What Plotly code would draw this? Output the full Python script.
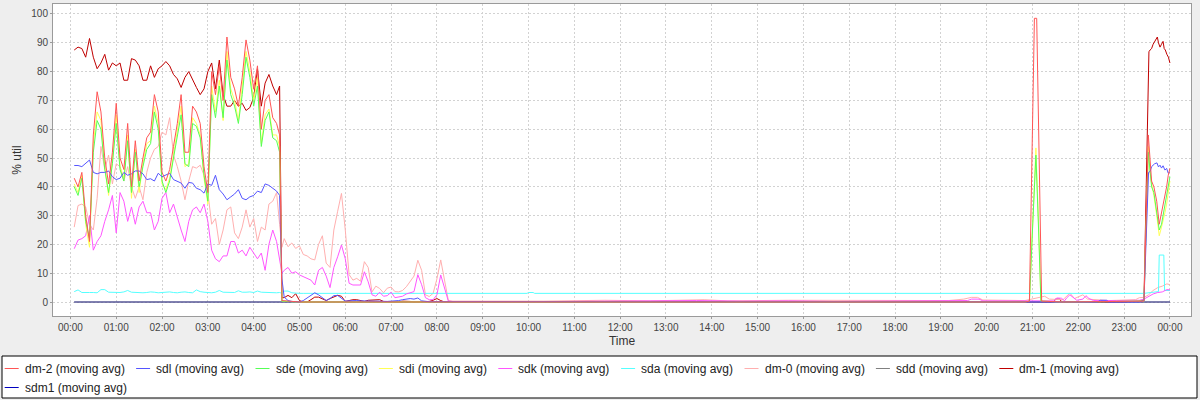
import pandas as pd
import plotly.graph_objects as go

# ---------------- data (minutes after 00:00, % util) ----------------
minutes_active = list(range(5, 271, 5)) + [274, 277]   # 00:05 .. 04:37
minutes_tail = list(range(280, 501, 5))                # 04:40 .. 08:20

dm2_active = [43, 40, 45, 30, 21, 58, 73, 66, 50, 41,
              52, 69, 50, 46, 62, 40, 56, 42, 50, 57,
              59, 72, 66, 45, 42, 46, 54, 62, 72, 52,
              52, 68, 66, 62, 47, 38, 80, 72, 82, 70,
              92, 78, 74, 68, 78, 91, 84, 74, 82, 60,
              70, 72, 64, 62, 58, 0.5]
sde_active = [40, 37, 43, 28, 22, 52, 63, 60, 46, 38,
              48, 62, 46, 42, 56, 38, 52, 40, 47, 53,
              55, 66, 60, 42, 38, 42, 50, 57, 65, 48,
              47, 62, 61, 57, 44, 35, 72, 64, 75, 64,
              84, 72, 68, 62, 72, 85, 78, 68, 75, 54,
              63, 66, 57, 56, 52, 0.3]
sdi_active = [41, 38, 44, 27, 19, 55, 66, 63, 47, 37,
              49, 65, 47, 43, 58, 36, 53, 38, 48, 55,
              56, 68, 62, 41, 39, 43, 51, 59, 68, 47,
              48, 64, 62, 58, 43, 34, 75, 66, 77, 63,
              87, 74, 70, 63, 74, 87, 80, 70, 78, 55,
              65, 67, 58, 58, 54, 0.3]
dm1_active = [87.5, 88.5, 88, 85, 91.5, 85, 81, 83, 86, 80.5,
              83, 82, 83, 77, 77, 84.5, 84, 82, 77, 77,
              82, 78, 81, 82, 83.5, 82, 79, 77.5, 74.5, 78,
              80, 77, 74.5, 72, 74, 80, 83, 74, 84, 72,
              68, 68, 70, 68, 69, 66.5, 67.5, 71, 81, 68,
              76, 79, 75, 72, 75, 1.5]
dm1_tail = [1.5, 2.3, 1.5, 2.9, 0.5, 0, 0, 0.8, 1.7, 1.7,
            1.2, 0.5, 1.2, 1.7, 2.3, 2.0, 0.2, 0.5, 0.8, 0.8,
            0.4, 0.2, 0.6, 0.6, 0.8, 0.8, 0.2, 0, 0, 0,
            0, 0.3, 0.3, 0.2, 0, 0, 0, 0, 0.2, 0.6,
            1.2, 0.5, 0, 0, 0]
sdl_active = [47.4, 47.4, 47, 48, 49.3, 45, 44.5, 45, 45, 45.5,
              43.5, 42.5, 43, 45, 44, 44.5, 45.5, 45.5, 44.5, 42.5,
              42.8, 42, 44.7, 43.5, 44, 44.7, 42.5, 41.8, 41.3, 39.5,
              41.5, 41.3, 39.5, 39, 37.8, 41, 40.5, 44, 39, 37.5,
              35.5, 36.5, 37.5, 39, 36, 35.5, 36.5, 37, 38.5, 38,
              41, 40.5, 39.5, 38.5, 37, 8]
sdl_tail = [1.7, 0.5, 0.2, 0, 0, 0.5, 1.4, 2.3, 3.2, 2.5,
            1.5, 0.5, 1.2, 2.2, 2.3, 1.2, 0.3, 0.4, 0.5, 0.5,
            0.4, 0.3, 0.3, 0.3, 0.3, 0.2, 0.2, 0.2, 0.3, 0.3,
            0.5, 0.8, 1.0, 1.2, 1.0, 1.4, 0.4, 0.2, 0.1, 0.1,
            0.1, 0.2, 0.1, 0, 0]
sdk_active = [18.5, 21.5, 22, 23, 30, 18, 21, 23, 28, 32,
              37, 24, 38, 35, 28, 33, 27, 33, 35, 31,
              31, 25, 28, 36, 38, 31, 34, 29, 25, 21,
              28, 32, 33, 31, 34, 28, 18, 15, 14, 16,
              16, 21, 21, 17, 18, 16, 19, 17, 15, 17,
              11, 20, 25, 21, 15, 10]
sdk_tail = [11, 12, 10, 10.5, 9.4, 8.8, 8.2, 7.6, 5.9, 11,
            12, 9, 5, 12, 15.7, 19.8, 15, 6.5, 5.9, 6,
            5.9, 10.5, 7, 2.5, 2, 3.4, 2, 2.2, 3.4, 1.5,
            1.8, 2, 2.8, 3.2, 3.6, 9.5, 6, 1.5, 0.8, 0.8,
            2.5, 9.4, 5, 0.3, 0.2]
dm0_active = [26, 33.5, 34, 33, 27, 25, 36, 54, 46, 51,
              41, 48, 47, 42, 47, 40, 36, 40, 35.5, 45,
              50, 53, 54, 59, 58, 64, 51, 47, 42, 35.5,
              42, 47, 46.5, 47.5, 44, 38, 27, 29, 20, 25,
              32, 33, 24, 22, 26, 32, 26, 29, 21, 26,
              25, 34, 35, 38, 27, 19]
dm0_tail = [22, 19.2, 20.5, 18.6, 19.5, 16.5, 16, 15, 14.6, 20,
            23, 13.5, 12, 25, 31.5, 37.7, 25, 9.5, 7.6, 8.2,
            7.2, 14, 12, 3.5, 5.5, 4.7, 3.2, 4.8, 5.2, 3.6,
            3.5, 4, 5.3, 7, 9, 14.5, 11, 2.5, 1.9, 3,
            8, 14.6, 7, 0.5, 0.3]
sda_active = [3.6, 4.2, 3.3, 3.2, 3.3, 3.3, 3.2, 4.3, 4.3, 3.4,
              3.3, 3.3, 3.3, 3.5, 4.0, 3.4, 3.3, 3.2, 3.2, 3.3,
              3.5, 3.4, 3.2, 3.3, 3.4, 3.5, 3.3, 3.2, 3.4, 3.5,
              3.3, 3.2, 4.2, 3.6, 3.4, 3.3, 3.2, 3.4, 4.0, 3.4,
              3.3, 3.3, 3.3, 3.9, 3.4, 3.4, 3.5, 3.3, 3.8, 3.4,
              3.3, 3.2, 3.3, 3.2, 3.3, 3.0]
sda_tail = [3.8, 3.8, 3.2, 3.0, 3.0, 3.0, 2.9, 3.0, 3.0, 3.0,
            3.0, 2.9, 3.0, 3.0, 3.0, 3.0, 3.0, 3.0, 2.9, 3.0,
            3.0, 3.0, 3.0, 3.0, 3.0, 3.0, 2.9, 3.0, 3.0, 3.0,
            3.0, 3.0, 3.0, 3.0, 3.0, 2.9, 3.0, 3.0, 3.0, 3.0,
            3.0, 3.0, 3.0, 3.0, 3.0]

# quiet period and evening spikes
dm2_late_t = [300, 1250, 1256, 1262.5, 1265.5, 1272, 1300, 1406, 1411.7, 1414,
              1416, 1419, 1422.7, 1426, 1429, 1431, 1433.5, 1435.7, 1437.8, 1440]
dm2_late_v = [0, 0, 0.3, 98.5, 98.5, 0.3, 0, 0.3, 58, 50,
              42, 40, 35, 27, 31, 33, 36, 40, 44, 46.4]
sde_late_t = [300, 1250, 1256, 1260, 1264.5, 1268, 1271, 1300, 1406, 1411.7, 1414,
              1416, 1419, 1422.7, 1426, 1429, 1431, 1433.5, 1435.7, 1437.8, 1440]
sde_late_v = [0, 0, 0.3, 25, 51, 25, 0.3, 0, 0.3, 52, 44,
              40, 38, 31, 25, 27, 30, 33, 37, 40, 43.5]
sdi_late_t = [300, 1250, 1256, 1260, 1264.5, 1268, 1271, 1300, 1406, 1411.7, 1414,
              1416, 1419, 1422.7, 1426, 1429, 1431, 1433.5, 1435.7, 1437.8, 1440]
sdi_late_v = [0, 0, 0.3, 27, 53.5, 27, 0.3, 0, 0.3, 54, 45,
              41, 37, 30, 23, 26, 28, 31, 34, 38, 42]
dm1_late_t = [505, 900, 1288, 1290, 1296, 1298, 1380, 1406, 1412.5, 1414, 1416,
              1418, 1420, 1422, 1423.5, 1425, 1427, 1429, 1431, 1432.5, 1434,
              1436, 1438, 1440]
dm1_late_v = [0, 0, 0, 1, 1, 0, 0, 0.5, 86.9, 87.5, 88,
              89.5, 90.5, 91.5, 92, 90, 88.5, 89.5, 90.5, 88, 87.5,
              86, 85, 83]
sdl_late_t = [505, 900, 1345, 1349, 1357, 1360, 1400, 1406, 1409, 1412, 1414,
              1416, 1420, 1423, 1425, 1427, 1429, 1431, 1433.5, 1435.7, 1437.8, 1440]
sdl_late_v = [0, 0, 0, 0.6, 0.6, 0, 0, 0.5, 20, 45, 45.3,
              47, 48, 48.3, 46.9, 47.5, 46.5, 47.3, 45.8, 46.4, 44.7, 45.2]
sdk_late_t = [505, 600, 700, 760, 820, 880, 940, 1000, 1060, 1120, 1175, 1180,
              1190, 1195, 1250, 1288, 1292, 1298, 1302, 1305, 1309, 1313, 1318,
              1326, 1330, 1334, 1340, 1370, 1395, 1400, 1406, 1412, 1418, 1424,
              1430, 1436, 1440]
sdk_late_v = [0.1, 0.1, 0.3, 0.2, 0.5, 0.3, 0.4, 0.2, 0.3, 0.3, 0.5, 1.0,
              1.0, 0.4, 0.3, 0.4, 1.4, 1.3, 0.4, 1.5, 2.5, 1.5, 0.6,
              1.0, 2.2, 1.2, 0.5, 0.5, 0.4, 0.6, 1, 1.8, 2.8, 3.3,
              3.5, 4.3, 4.2]
dm0_late_t = [505, 560, 620, 700, 760, 830, 860, 940, 1010, 1080, 1150, 1170,
              1180, 1188, 1195, 1250, 1276, 1282, 1300, 1309, 1315, 1326, 1332,
              1360, 1395, 1400, 1406, 1412, 1418, 1424, 1430, 1436, 1440]
dm0_late_v = [0.3, 0.5, 0.3, 0.6, 0.4, 0.8, 0.4, 0.6, 0.5, 0.6, 0.5, 1.0,
              1.6, 1.6, 0.7, 0.5, 2.0, 1.0, 0.8, 3.1, 1.2, 2.5, 1.0,
              0.5, 0.8, 1.5, 1.6, 2.5, 4, 5, 5.5, 6.3, 6]
sda_late_t = [510, 540, 580, 598, 600, 606, 608, 660, 700, 760, 820, 880, 940,
              1000, 1060, 1120, 1180, 1240, 1300, 1360, 1400, 1406, 1415, 1425,
              1426, 1432, 1433, 1440]
sda_late_v = [3.0, 2.9, 3.0, 3.0, 3.3, 3.3, 3.0, 3.0, 2.9, 2.8, 2.9, 2.8, 2.9,
              2.8, 2.9, 2.8, 2.9, 3.0, 2.9, 3.0, 3.0, 3.0, 3.3, 3.6,
              16.3, 16.3, 4.0, 4.0]
sdd_t = [5, 1440]
sdd_v = [0, 0]
sdm1_t = [5, 1440]
sdm1_v = [0, 0]

series_names = ["dm-2 (moving avg)", "sdl (moving avg)", "sde (moving avg)",
                "sdi (moving avg)", "sdk (moving avg)", "sda (moving avg)",
                "dm-0 (moving avg)", "sdd (moving avg)", "dm-1 (moving avg)",
                "sdm1 (moving avg)"]
y_ticks = list(range(0, 101, 10))

# ---------------- assemble ----------------
series = {
    "dm-2 (moving avg)": (minutes_active + dm2_late_t, dm2_active + dm2_late_v),
    "sdl (moving avg)": (minutes_active + minutes_tail + sdl_late_t, sdl_active + sdl_tail + sdl_late_v),
    "sde (moving avg)": (minutes_active + sde_late_t, sde_active + sde_late_v),
    "sdi (moving avg)": (minutes_active + sdi_late_t, sdi_active + sdi_late_v),
    "sdk (moving avg)": (minutes_active + minutes_tail + sdk_late_t, sdk_active + sdk_tail + sdk_late_v),
    "sda (moving avg)": (minutes_active + minutes_tail + sda_late_t, sda_active + sda_tail + sda_late_v),
    "dm-0 (moving avg)": (minutes_active + minutes_tail + dm0_late_t, dm0_active + dm0_tail + dm0_late_v),
    "sdd (moving avg)": (sdd_t, sdd_v),
    "dm-1 (moving avg)": (minutes_active + minutes_tail + dm1_late_t, dm1_active + dm1_tail + dm1_late_v),
    "sdm1 (moving avg)": (sdm1_t, sdm1_v),
}
colors = {
    "dm-2 (moving avg)": "#FF5555", "sdl (moving avg)": "#5555FF",
    "sde (moving avg)": "#55FF55", "sdi (moving avg)": "#FFFF55",
    "sdk (moving avg)": "#FF55FF", "sda (moving avg)": "#55FFFF",
    "dm-0 (moving avg)": "#FFAFAF", "sdd (moving avg)": "#808080",
    "dm-1 (moving avg)": "#C00000", "sdm1 (moving avg)": "#0000C0",
}

base = pd.Timestamp("2024-01-01 00:00:00")


def to_time(mins):
    return [base + pd.Timedelta(minutes=m) for m in mins]


fig = go.Figure()
for name in reversed(series_names):  # first series drawn on top
    t, v = series[name]
    assert len(t) == len(v), name
    fig.add_trace(go.Scatter(x=to_time(t), y=v, mode="lines", name=name,
                             line=dict(color=colors[name], width=1),
                             showlegend=False, hoverinfo="skip"))

# ---------------- layout ----------------
W, H = 1200, 400
PL, PR, PT, PB = 53, 1191, 4, 316   # plot area in pixels
FONT = "Liberation Sans"


def px_x(px):
    return (px - PL) / (PR - PL)


def px_y(py):
    return (PB - py) / (PB - PT)


grid = dict(showgrid=True, gridcolor="#D2D2D2", gridwidth=1, griddash="2px,2px")
axis_common = dict(showline=True, linecolor="#9A9A9A", linewidth=1, mirror=True,
                   ticks="outside", ticklen=2, tickcolor="#9A9A9A",
                   zeroline=False, automargin=False,
                   tickfont=dict(family=FONT, size=10, color="#444444"))

fig.update_layout(
    width=W, height=H, autosize=False,
    margin=dict(l=PL, r=W - PR, t=PT, b=H - PB, pad=0),
    paper_bgcolor="#EEEEEE", plot_bgcolor="#FFFFFF",
    template=None, showlegend=False,
    xaxis=dict(type="date",
               range=[base + pd.Timedelta(minutes=-22.8), base + pd.Timedelta(minutes=1467.6)],
               tick0=base, dtick=3600000, tickformat="%H:%M",
               title=dict(text="Time", standoff=4,
                          font=dict(family=FONT, size=12, color="#333333")),
               **grid, **axis_common),
    yaxis=dict(range=[-4.86, 103.47], tickvals=y_ticks,
               title=dict(text="% util", standoff=7,
                          font=dict(family=FONT, size=12, color="#333333")),
               **grid, **axis_common),
)

# legend box drawn as in the reference (short line samples, two rows)
legend_text_x = [23.7, 155.1, 274.5, 397.9, 517.3, 640.1, 763.5, 894.9, 1018.3, 23.7]
legend_row = [0, 0, 0, 0, 0, 0, 0, 0, 0, 1]
row_y = [368.5, 387.5]
shapes = [dict(type="rect", xref="paper", yref="paper",
               x0=px_x(2), x1=px_x(1197), y0=px_y(398), y1=px_y(356),
               line=dict(color="#000000", width=1), fillcolor="#FFFFFF", layer="above")]
annotations = []
for name, tx, r in zip(series_names, legend_text_x, legend_row):
    yy = px_y(row_y[r])
    shapes.append(dict(type="line", xref="paper", yref="paper",
                       x0=px_x(tx - 19), x1=px_x(tx - 5), y0=yy, y1=yy,
                       line=dict(color=colors[name], width=1), layer="above"))
    annotations.append(dict(xref="paper", yref="paper", x=px_x(tx - 1), y=yy,
                            text=name, showarrow=False, xanchor="left", yanchor="middle",
                            font=dict(family=FONT, size=12, color="#222222")))
fig.update_layout(shapes=shapes, annotations=annotations)

fig.write_html("out.html", config={"displayModeBar": False},
               post_script="document.body.style.margin='0';")
